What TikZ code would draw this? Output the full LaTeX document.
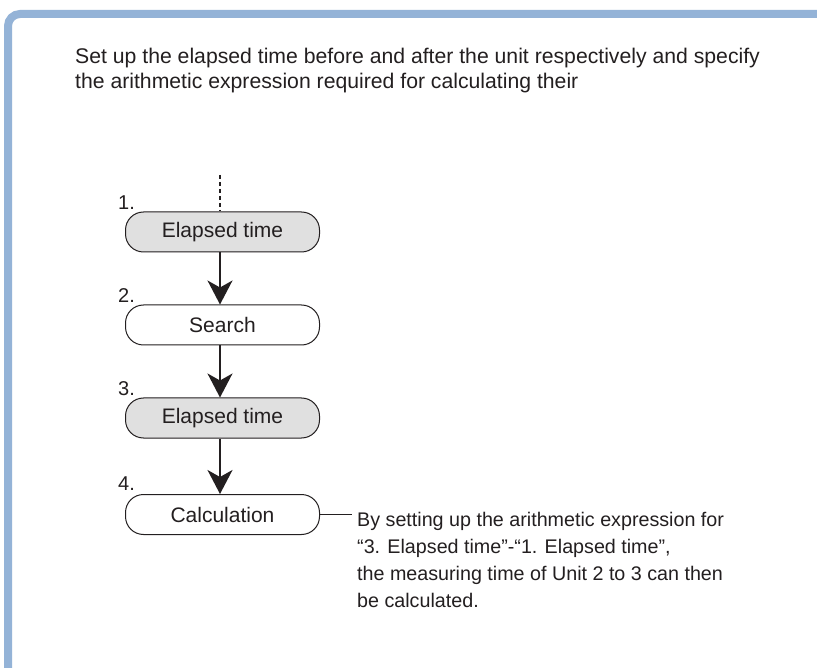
\documentclass[tikz,border=0pt]{standalone}
\usepackage{fontspec}
\setmainfont{Liberation Sans}
\usetikzlibrary{arrows.meta}
\definecolor{frameblue}{HTML}{94B3D7}
\definecolor{boxgray}{HTML}{E0E0E0}
\definecolor{ink}{HTML}{231F20}
\begin{document}
\begin{tikzpicture}[x=1pt,y=1pt,
  stepbox/.style={draw=ink,line width=1pt,rounded corners=18pt,minimum width=194pt,minimum height=40pt,inner sep=0pt,font=\fontsize{21}{24}\selectfont,text=ink},
  graybox/.style={stepbox,fill=boxgray},
  whitebox/.style={stepbox,fill=white},
  numlabel/.style={anchor=west,inner sep=0pt,font=\fontsize{20}{22}\selectfont,text=ink},
  flow/.style={draw=ink,line width=2pt,-{Stealth[length=24pt,width=25pt,inset=7pt]}},
  bodytext/.style={anchor=north west,inner sep=0pt,align=left,text=ink}
]
\useasboundingbox (0,0) rectangle (817,-668);
\clip (0,0) rectangle (817,-668);
\fill[white] (0,0) rectangle (817,-668);
\draw[frameblue,line width=8pt,rounded corners=12pt] (8,-700) -- (8,-14) -- (850,-14);

\node[bodytext,font=\fontsize{21.2}{24.5}\selectfont] (head) at (75,-48) {Set up the elapsed time before and after the unit respectively and specify\\the arithmetic expression required for calculating their};

\coordinate (top) at (220,-175);
\node[graybox] (b1) at (222.5,-232) {Elapsed time};
\node[whitebox] (b2) at (222.5,-325) {Search};
\node[graybox] (b3) at (222.5,-418) {Elapsed time};
\node[whitebox] (b4) at (222.5,-514.5) {Calculation};

\node[numlabel] (l1) at (118,-203) {1.};
\node[numlabel] (l2) at (118,-296) {2.};
\node[numlabel] (l3) at (118,-389) {3.};
\node[numlabel] (l4) at (118,-484) {4.};

\draw[ink,line width=2pt,dash pattern=on 4pt off 3pt] (top) -- (top |- b1.north);
\draw[flow] ([xshift=-2.5pt]b1.south) -- ([xshift=-2.5pt]b2.north);
\draw[flow] ([xshift=-2.5pt]b2.south) -- ([xshift=-2.5pt]b3.north);
\draw[flow] ([xshift=-2.5pt]b3.south) -- ([xshift=-2.5pt]b4.north);

\coordinate (callout) at (352,-514.5);
\draw[ink,line width=1.3pt] (b4.east) -- (callout);
\node[bodytext,font=\fontsize{19.7}{26.7}\selectfont] (note) at (357,-512.5) {By setting up the arithmetic expression for\\“3. Elapsed time”-“1. Elapsed time”,\\the measuring time of Unit 2 to 3 can then\\be calculated.};
\end{tikzpicture}
\end{document}
